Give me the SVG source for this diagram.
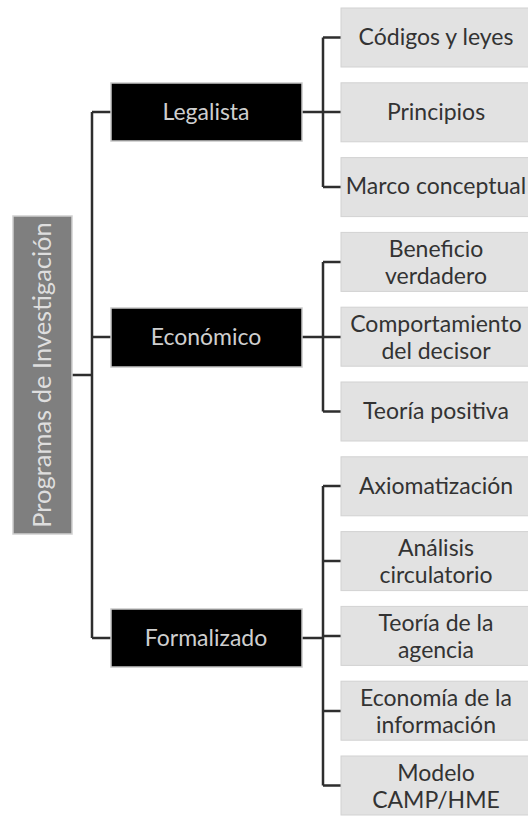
<svg xmlns="http://www.w3.org/2000/svg" width="528" height="816" viewBox="0 0 528 816">
<style>
.leaf rect{fill:#e2e2e2;stroke:#d2d2d2;stroke-width:1}
.leaf text{fill:#333;font-family:Lato,"Liberation Sans",sans-serif;font-size:23px;text-anchor:middle}
.mid rect{fill:#000;stroke:#c8c8c8;stroke-width:1.5}
.mid text{fill:#cfcfcf;font-family:Lato,"Liberation Sans",sans-serif;font-size:23px;text-anchor:middle}
.root rect{fill:#7f7f7f;stroke:#d0d0d0;stroke-width:1.5}
.root text{fill:#dedede;font-family:Lato,"Liberation Sans",sans-serif;font-size:25.5px;text-anchor:middle}
#connectors path{fill:none;stroke:#2e2e2e;stroke-width:2.5}
</style>
<rect width="528" height="816" fill="#fff"/>
<g id="connectors">
<path d="M72 375H92M92 112V638M92 112H111M92 337H111M92 638H111"/>
<path d="M302 112H341M323 37.5V187M323 37.5H341M323 187H341"/>
<path d="M302 337H341M323 262V411.5M323 262H341M323 411.5H341"/>
<path d="M302 638H323M323 486V785.5M323 486H341M323 561H341M323 636H341M323 711H341M323 785.5H341"/>
</g>
<g id="root" class="root"><rect x="13" y="216" width="59" height="318"/><text transform="translate(51 375) rotate(-90)">Programas de Investigación</text></g>
<g id="legalista" class="mid"><rect x="111" y="83" width="191" height="58"/><text x="206" y="120">Legalista</text></g>
<g id="economico" class="mid"><rect x="111" y="308" width="191" height="59"/><text x="206" y="345">Económico</text></g>
<g id="formalizado" class="mid"><rect x="111" y="609" width="191" height="58"/><text x="206" y="646">Formalizado</text></g>
<g id="codigos" class="leaf"><rect x="341" y="8" width="190" height="59"/><text x="436" y="45">Códigos y leyes</text></g>
<g id="principios" class="leaf"><rect x="341" y="82.8" width="190" height="59"/><text x="436" y="120">Principios</text></g>
<g id="marco" class="leaf"><rect x="341" y="157.6" width="190" height="59"/><text x="436" y="194">Marco conceptual</text></g>
<g id="beneficio" class="leaf"><rect x="341" y="232.4" width="190" height="59"/><text x="436" y="257">Beneficio</text><text x="436" y="284">verdadero</text></g>
<g id="comportamiento" class="leaf"><rect x="341" y="307.2" width="190" height="59"/><text x="436" y="332">Comportamiento</text><text x="436" y="359">del decisor</text></g>
<g id="teoriapositiva" class="leaf"><rect x="341" y="382" width="190" height="59"/><text x="436" y="419">Teoría positiva</text></g>
<g id="axiomatizacion" class="leaf"><rect x="341" y="456.8" width="190" height="59"/><text x="436" y="494">Axiomatización</text></g>
<g id="analisis" class="leaf"><rect x="341" y="531.6" width="190" height="59"/><text x="436" y="556">Análisis</text><text x="436" y="583">circulatorio</text></g>
<g id="agencia" class="leaf"><rect x="341" y="606.4" width="190" height="59"/><text x="436" y="631">Teoría de la</text><text x="436" y="658">agencia</text></g>
<g id="economia" class="leaf"><rect x="341" y="681.2" width="190" height="59"/><text x="436" y="706">Economía de la</text><text x="436" y="733">información</text></g>
<g id="modelo" class="leaf"><rect x="341" y="756" width="190" height="59"/><text x="436" y="781">Modelo</text><text x="436" y="808">CAMP/HME</text></g>
</svg>
